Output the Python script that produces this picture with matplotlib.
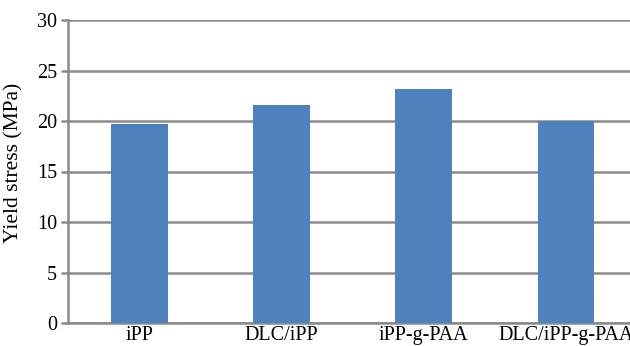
import matplotlib.pyplot as plt

samples = ['iPP', 'DLC/iPP', 'iPP-g-PAA', 'DLC/iPP-g-PAA']
yield_stress = [19.7, 21.6, 23.2, 20.0]

plt.rcParams['font.family'] = ['Liberation Serif', 'DejaVu Serif']

fig = plt.figure(figsize=(6.3, 3.46), dpi=100)
ax = fig.add_axes([68 / 630, 23 / 346, 1 - 68 / 630, 303 / 346])

x = range(len(samples))
ax.bar(x, yield_stress, width=0.4, color='#4f81bd', zorder=3)

ax.set_ylim(0, 30)
ax.set_yticks(range(0, 31, 5))
ax.set_xlim(-0.5, 3.45)
ax.set_xticks(list(x))
ax.set_xticklabels(samples)
ax.yaxis.grid(True, color='#8a8a8a', linewidth=1.8, zorder=0)

for side in ['top', 'right']:
    ax.spines[side].set_visible(False)
for side in ['left', 'bottom']:
    ax.spines[side].set_color('#8a8a8a')
    ax.spines[side].set_linewidth(1.8)

ax.tick_params(axis='y', length=5, width=1.8, color='#8a8a8a', labelsize=14.5, pad=3)
ax.tick_params(axis='x', length=0, labelsize=14.5, pad=2)
ax.set_ylabel('Yield stress (MPa)', fontsize=15.5)
ax.yaxis.set_label_coords(-0.08, 0.53)

fig.savefig('out.png', dpi=100)
